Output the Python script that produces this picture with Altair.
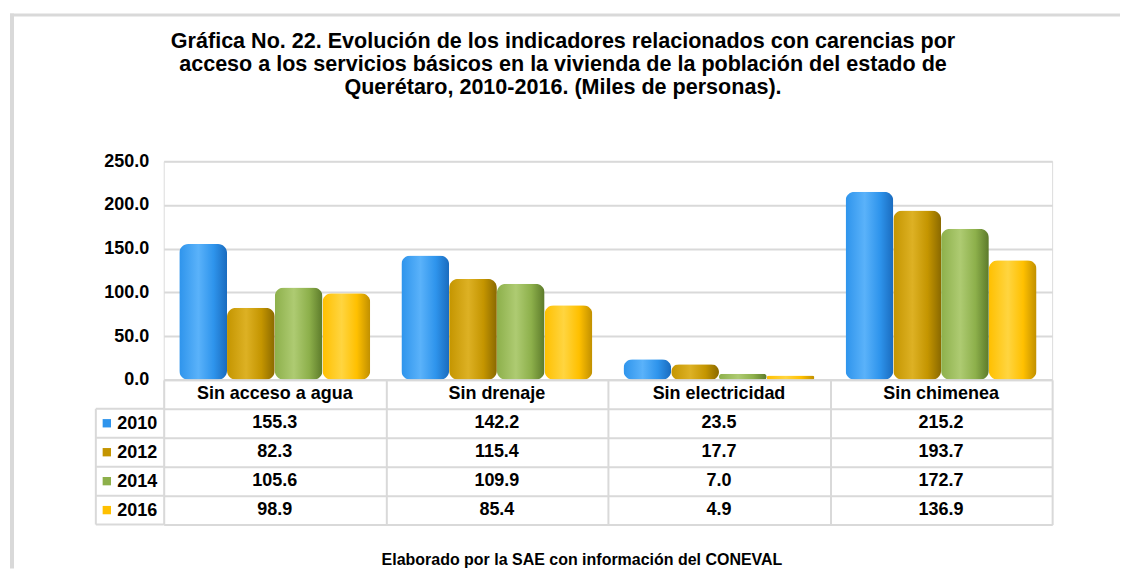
import altair as alt
import pandas as pd

categorias = ["Sin acceso a agua", "Sin drenaje", "Sin electricidad", "Sin chimenea"]
anios = ["2010", "2012", "2014", "2016"]
v2010 = [155.3, 142.2, 23.5, 215.2]
v2012 = [82.3, 115.4, 17.7, 193.7]
v2014 = [105.6, 109.9, 7.0, 172.7]
v2016 = [98.9, 85.4, 4.9, 136.9]
colores = ["#2E94EC", "#C49500", "#8DB04B", "#FFC000"]
claros = ["#5AB2FA", "#DDB124", "#AECB72", "#FFD540"]
oscuros = ["#1A6BBE", "#8A6900", "#5C7A2A", "#C08F00"]
ticks_y = [0, 50, 100, 150, 200, 250]

titulo = ["Gráfica No. 22. Evolución de los indicadores relacionados con carencias por",
          "acceso a los servicios básicos en la vivienda de la población del estado de",
          "Querétaro, 2010-2016. (Miles de personas)."]
pie = "Elaborado por la SAE con información del CONEVAL"

FONT = "Liberation Sans"
GRID = "#D9D9D9"

rows = []
for a, vals in zip(anios, [v2010, v2012, v2014, v2016]):
    for c, v in zip(categorias, vals):
        rows.append({"categoria": c, "anio": a, "valor": v})
df = pd.DataFrame(rows)

W = 890
H = 219
color_scale = alt.Scale(domain=anios, range=colores)

base = alt.Chart(df)
x_enc = alt.X("categoria:N", sort=categorias, axis=None,
              scale=alt.Scale(domain=categorias, paddingInner=0.14, paddingOuter=0.07))
xo_enc = alt.XOffset("anio:N", scale=alt.Scale(domain=anios, paddingInner=0.0))
y_enc = alt.Y("valor:Q", scale=alt.Scale(domain=[0, 250], nice=False),
              axis=alt.Axis(values=ticks_y, format=".1f", title=None, domain=False,
                            ticks=False, labelPadding=15, labelFontSize=18,
                            labelFontWeight="bold", labelFont=FONT, labelColor="#000",
                            gridColor=GRID, gridWidth=2))

bar_layers = []
for a, c0, c1, c2 in zip(anios, colores, claros, oscuros):
    grad = alt.LinearGradient(
        gradient="linear", x1=0, x2=1, y1=0, y2=0,
        stops=[alt.GradientStop(offset=0, color=c0),
               alt.GradientStop(offset=0.4, color=c1),
               alt.GradientStop(offset=0.72, color=c0),
               alt.GradientStop(offset=1, color=c2)])
    bar_layers.append(
        base.transform_filter(alt.datum.anio == a)
        .mark_bar(cornerRadius=9, color=grad)
        .encode(x=x_enc, xOffset=xo_enc, y=y_enc)
    )

one = pd.DataFrame({"k": [0]})
frame_left = alt.Chart(one).mark_rule(color=GRID, strokeWidth=4).encode(
    x=alt.value(-152), y=alt.value(-148), y2=alt.value(408))
frame_top = alt.Chart(one).mark_rule(color=GRID, strokeWidth=3).encode(
    x=alt.value(-154), x2=alt.value(958), y=alt.value(-146.5))
title_txt = alt.Chart(one).mark_text(
    text=titulo, align="center", baseline="middle", fontSize=21.6, fontWeight="bold",
    lineHeight=23, font=FONT, color="#000").encode(x=alt.value(400), y=alt.value(-119))
foot_txt = alt.Chart(one).mark_text(
    text=pie, align="center", baseline="middle", fontSize=16, fontWeight="bold",
    font=FONT, color="#000").encode(x=alt.value(419), y=alt.value(399))

top = alt.layer(*bar_layers, frame_left, frame_top, title_txt, foot_txt).properties(width=W, height=H)

# ---- table ----
filas = ["hdr"] + anios
TH = 145
y_tab = alt.Scale(domain=filas, paddingInner=0, paddingOuter=0)
x_tab = alt.Scale(domain=categorias, paddingInner=0, paddingOuter=0)

vals_txt = base.mark_text(fontSize=18, fontWeight="bold", font=FONT, color="#000").encode(
    x=alt.X("categoria:N", scale=x_tab,
            axis=alt.Axis(labels=False, ticks=False, domain=False, title=None,
                          grid=True, tickBand="extent", gridColor=GRID, gridWidth=2)),
    y=alt.Y("anio:N", scale=y_tab,
            axis=alt.Axis(title=None, domain=False, ticks=False, grid=True,
                          tickBand="extent", gridColor=GRID, gridWidth=2,
                          labelExpr="datum.value == 'hdr' ? '' : datum.value",
                          labelFontSize=18, labelFontWeight="bold", labelFont=FONT,
                          labelColor="#000", labelPadding=7)),
    text=alt.Text("valor:Q", format=".1f"),
)
hdr_df = pd.DataFrame({"categoria": categorias, "anio": ["hdr"] * 4})
hdr_txt = alt.Chart(hdr_df).mark_text(fontSize=18, fontWeight="bold", font=FONT, color="#000").encode(
    x=alt.X("categoria:N", scale=x_tab), y=alt.Y("anio:N", scale=y_tab), text="categoria:N")

yr_df = pd.DataFrame({"anio": anios})
squares = alt.Chart(yr_df).mark_point(shape="square", filled=True, size=70, opacity=1).encode(
    x=alt.value(-57), y=alt.Y("anio:N", scale=y_tab),
    color=alt.Color("anio:N", scale=color_scale, legend=None))
left_h = alt.Chart(yr_df).mark_rule(color=GRID, strokeWidth=2).encode(
    x=alt.value(-68), x2=alt.value(0), y=alt.Y("anio:N", scale=y_tab, bandPosition=0))
left_bottom = alt.Chart(one).mark_rule(color=GRID, strokeWidth=2).encode(
    x=alt.value(-68), x2=alt.value(0), y=alt.value(TH))
left_v = alt.Chart(one).mark_rule(color=GRID, strokeWidth=2).encode(
    x=alt.value(-68), y=alt.value(29), y2=alt.value(TH))

table = alt.layer(vals_txt, hdr_txt, left_h, left_bottom, left_v, squares).properties(width=W, height=TH)

chart = alt.vconcat(top, table, spacing=0, bounds="flush").resolve_scale(
    x="independent", y="independent", color="shared"
).properties(
    padding={"left": 0, "top": 2, "right": 0, "bottom": 0}
).configure_view(stroke=None).configure(background="white")

chart.save("out.html", embed_options={"renderer": "svg", "actions": False})
